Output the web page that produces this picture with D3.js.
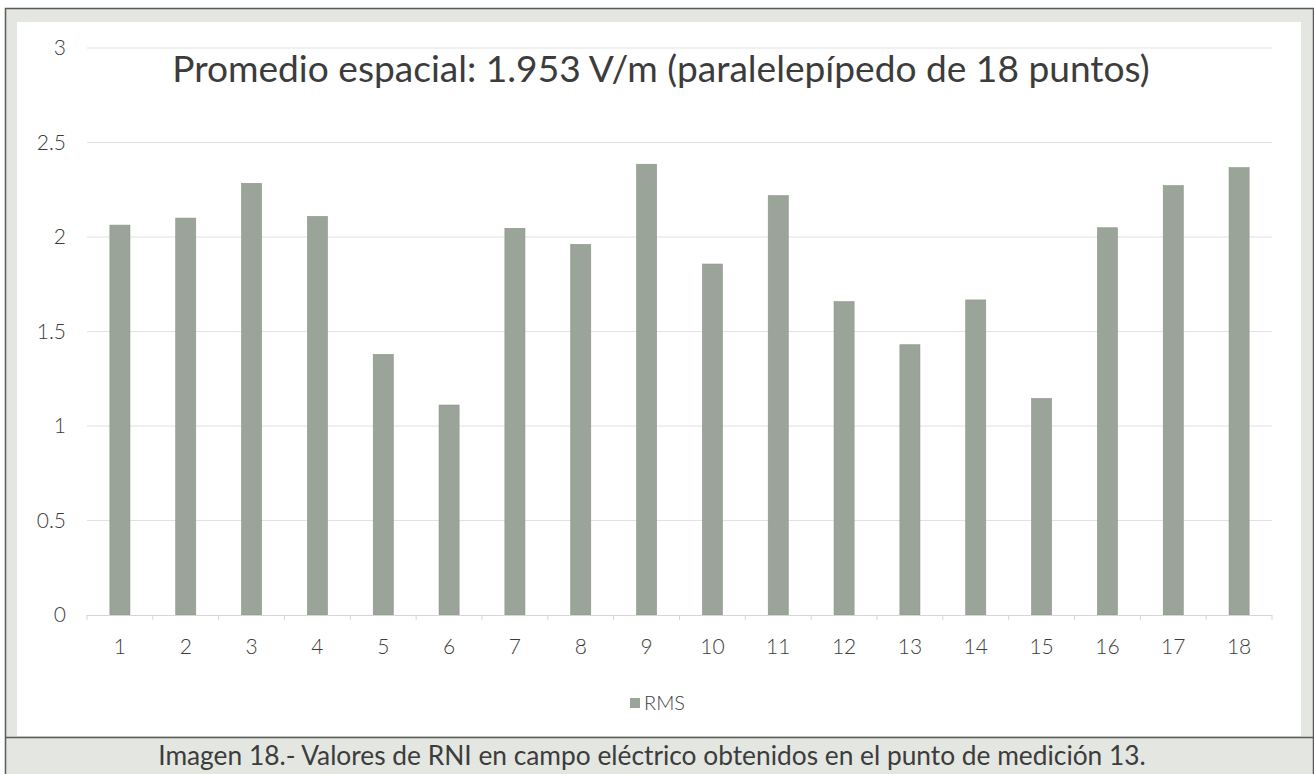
<!DOCTYPE html>
<html lang="es">
<head>
<meta charset="UTF-8">
<title>Promedio espacial RMS</title>
<script src="https://d3js.org/d3.v7.min.js"></script>
<style>
  html, body { margin: 0; padding: 0; background: #fff; }
  svg text { font-family: "Lato", "Noto Sans", sans-serif; font-weight: 300; fill: #3c3c3c; }
  .grid line { stroke: #e2e2e2; stroke-width: 1.2; }
  .axis path, .axis line { stroke: #d6d6d6; }
</style>
</head>
<body>
<div id="chart"></div>
<script>
  // data
  const puntos = ["1","2","3","4","5","6","7","8","9","10","11","12","13","14","15","16","17","18"];
  const rms = [2.063, 2.10, 2.284, 2.109, 1.379, 1.111, 2.046, 1.961, 2.385, 1.857,
               2.219, 1.658, 1.430, 1.667, 1.146, 2.049, 2.272, 2.367];
  const yTicks = [0, 0.5, 1, 1.5, 2, 2.5, 3];
  const titulo = "Promedio espacial: 1.953 V/m (paralelepípedo de 18 puntos)";
  const serie = "RMS";
  const pie = "Imagen 18.- Valores de RNI en campo eléctrico obtenidos en el punto de medición 13.";

  const W = 1314, H = 774;
  const barColor = "#9aa498";
  const frameColor = "#e3e6e1";

  const svg = d3.select("#chart").append("svg")
    .attr("width", W).attr("height", H);

  // frame + caption band
  svg.append("rect").attr("x", 0).attr("y", 0).attr("width", W).attr("height", H).attr("fill", "#fff");
  svg.append("rect").attr("x", 5.5).attr("y", 8.5).attr("width", W - 6).attr("height", H)
    .attr("fill", frameColor).attr("stroke", "#5a5a5a").attr("stroke-width", 1.5);
  svg.append("rect").attr("x", 17).attr("y", 22).attr("width", 1284).attr("height", 714).attr("fill", "#fff");
  svg.append("line").attr("x1", 5).attr("x2", W).attr("y1", 737.5).attr("y2", 737.5)
    .attr("stroke", "#5a5a5a").attr("stroke-width", 1.5);

  const x = d3.scaleBand().domain(puntos).range([87, 1272]).paddingInner(0.695).paddingOuter(0.3475);
  const y = d3.scaleLinear().domain([0, 3]).range([615, 48]);

  // gridlines
  svg.append("g").attr("class", "grid")
    .selectAll("line").data(yTicks.filter(d => d > 0)).enter().append("line")
    .attr("x1", 87).attr("x2", 1272)
    .attr("y1", d => y(d)).attr("y2", d => y(d));

  // y labels
  svg.append("g").selectAll("text").data(yTicks).enter().append("text")
    .attr("x", 66).attr("y", d => y(d)).attr("dy", "0.35em")
    .attr("text-anchor", "end").attr("font-size", 21)
    .text(d => d);

  // bars
  svg.append("g").selectAll("rect").data(rms).enter().append("rect")
    .attr("x", (d, i) => x(puntos[i]))
    .attr("y", d => y(d))
    .attr("width", x.bandwidth())
    .attr("height", d => y(0) - y(d))
    .attr("fill", barColor)
    .attr("stroke", "#8d958a").attr("stroke-width", 0.6);

  // x axis
  const xAxis = d3.axisBottom(x).tickSize(0).tickPadding(24);
  const gx = svg.append("g").attr("class", "axis").attr("transform", `translate(0,${y(0)})`).call(xAxis);
  gx.select(".domain").attr("d", "M87,0.5H1272");
  gx.selectAll("text").attr("font-size", 21).attr("font-family", null).attr("fill", "#3c3c3c");
  // small ticks at band edges
  const edges = puntos.map(p => x(p) - x.step() * x.paddingInner() / 2).concat([1272]);
  gx.selectAll(".edge").data(edges).enter().append("line").attr("class", "edge")
    .attr("x1", d => d).attr("x2", d => d).attr("y1", 0).attr("y2", 5)
    .attr("stroke", "#d6d6d6");

  // fit a text to a target width
  function fit(sel, target) {
    const w = sel.node().getComputedTextLength();
    const fs = +sel.attr("font-size");
    sel.attr("font-size", fs * target / w);
  }

  const t = svg.append("text").attr("x", 661).attr("y", 82)
    .attr("text-anchor", "middle").attr("font-size", 28)
    .style("font-weight", 400).text(titulo);
  fit(t, 978);

  // legend
  const lg = svg.append("g").attr("transform", "translate(630,698)");
  lg.append("rect").attr("width", 10).attr("height", 10).attr("fill", barColor);
  lg.append("text").attr("x", 14).attr("y", 5).attr("dy", "0.35em").attr("font-size", 20).text(serie);

  const c = svg.append("text").attr("x", 652).attr("y", 765)
    .attr("text-anchor", "middle").attr("font-size", 25).attr("fill", "#2e2e2e")
    .style("font-weight", 400).text(pie);
  fit(c, 988);
</script>
</body>
</html>
